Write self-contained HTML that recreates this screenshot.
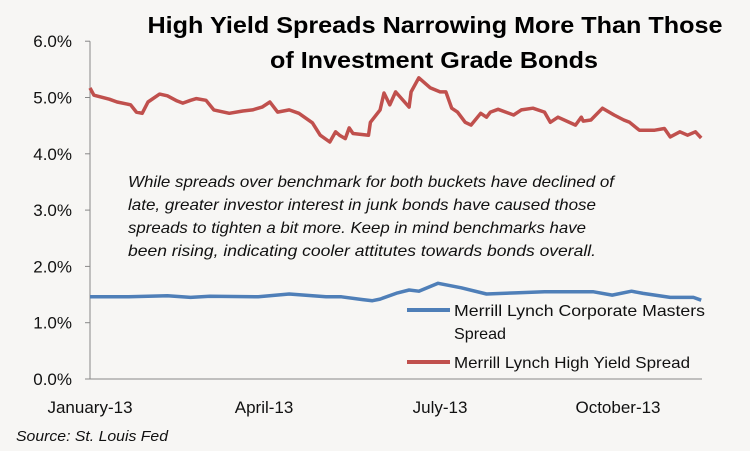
<!DOCTYPE html>
<html><head><meta charset="utf-8"><style>
html,body{margin:0;padding:0;background:#f7f6f4;}
svg{display:block;font-family:"Liberation Sans Narrow","Liberation Sans",sans-serif;}
</style></head><body>
<svg id="chart" width="750" height="451" viewBox="0 0 750 451">
<rect width="750" height="451" fill="#f7f6f4"/>
<g font-weight="bold" font-size="23" fill="#000">
<text x="435" y="33" text-anchor="middle" textLength="575" lengthAdjust="spacingAndGlyphs">High Yield Spreads Narrowing More Than Those</text>
<text x="434" y="68" text-anchor="middle" textLength="328" lengthAdjust="spacingAndGlyphs">of Investment Grade Bonds</text>
</g>
<g font-style="italic" font-size="16" fill="#111">
<text x="128" y="187" textLength="486" lengthAdjust="spacingAndGlyphs">While spreads over benchmark for both buckets have declined of</text>
<text x="128" y="210" textLength="468" lengthAdjust="spacingAndGlyphs">late, greater investor interest in junk bonds have caused those</text>
<text x="128" y="233" textLength="458" lengthAdjust="spacingAndGlyphs">spreads to tighten a bit more. Keep in mind benchmarks have</text>
<text x="128" y="256" textLength="468" lengthAdjust="spacingAndGlyphs">been rising, indicating cooler attitutes  towards bonds overall.</text>
</g>
<g id="axes"></g>
<g id="series"></g>
<g font-size="16" fill="#111">
<line x1="407" y1="310" x2="450" y2="310" stroke="#4f7fb8" stroke-width="4"/>
<text x="454" y="316" textLength="251" lengthAdjust="spacingAndGlyphs">Merrill Lynch Corporate Masters</text>
<text x="454" y="339" textLength="52" lengthAdjust="spacingAndGlyphs">Spread</text>
<line x1="407" y1="362" x2="450" y2="362" stroke="#c0504d" stroke-width="4"/>
<text x="454" y="368" textLength="236" lengthAdjust="spacingAndGlyphs">Merrill Lynch High Yield Spread</text>
</g>
<text x="16" y="441" font-size="15" font-style="italic" fill="#111" textLength="152" lengthAdjust="spacingAndGlyphs">Source: St. Louis Fed</text>
</svg>
<script>
const yTicks=[0,1,2,3,4,5,6];
const yTickLabels=["0.0%","1.0%","2.0%","3.0%","4.0%","5.0%","6.0%"];
const xTickDays=[0,90,181,273];
const xTickLabels=["January-13","April-13","July-13","October-13"];
const hyDays=[0,2,10,14,21,24,27,30,36,40,45,48,52,55,60,64,72,79,84,89,93,97,103,108,115,119,124,127,129,132,134,136,144,145,150,152,155,158,165,166,170,176,181,184,187,190,194,197,202,205,207,211,219,223,229,235,238,242,251,254,255,259,265,271,276,279,284,292,297,300,305,309,313,316];
const hyValues=[5.17,5.04,4.97,4.92,4.87,4.74,4.72,4.92,5.06,5.03,4.94,4.9,4.95,4.98,4.95,4.78,4.72,4.76,4.78,4.83,4.92,4.74,4.78,4.72,4.55,4.33,4.21,4.39,4.33,4.27,4.46,4.36,4.33,4.56,4.78,5.08,4.87,5.1,4.83,5.1,5.35,5.17,5.1,5.1,4.81,4.74,4.56,4.51,4.72,4.65,4.74,4.79,4.69,4.78,4.81,4.74,4.56,4.65,4.51,4.65,4.58,4.6,4.81,4.69,4.6,4.56,4.42,4.42,4.45,4.3,4.39,4.33,4.39,4.28];
const igDays=[0,20,40,52,62,87,103,122,130,141,146,150,159,165,170,180,192,205,220,235,245,253,260,270,280,286,300,312,316];
const igValues=[1.46,1.46,1.48,1.45,1.47,1.46,1.51,1.46,1.46,1.41,1.39,1.42,1.53,1.58,1.56,1.7,1.62,1.51,1.53,1.55,1.55,1.55,1.55,1.49,1.56,1.52,1.45,1.45,1.40];
const NS="http://www.w3.org/2000/svg";
const x0=90,xEnd=702,pxPerDay=(618-90)/273;
const yBase=379,pxPerPct=56.3;
function xs(d){return x0+d*pxPerDay;}
function ys(v){return yBase-v*pxPerPct;}
function mk(t,a,p){const e=document.createElementNS(NS,t);for(const k in a)e.setAttribute(k,a[k]);p.appendChild(e);return e;}
const ax=document.getElementById('axes');
const yl=mk('line',{x1:x0,y1:ys(6),x2:x0,y2:yBase,stroke:'#888','stroke-width':1},ax);


const xl=mk('line',{x1:x0,y1:yBase,x2:xEnd,y2:yBase,stroke:'#888','stroke-width':1},ax);


yTicks.forEach((v,i)=>{
 const tk=mk('line',{x1:x0-5,y1:ys(v),x2:x0,y2:ys(v),stroke:'#888'},ax);
 
 
 const t=mk('text',{x:x0-18,y:ys(v)+6,'text-anchor':'end','font-size':17,fill:'#111'},ax);
 t.textContent=yTickLabels[i];
 
 
});
xTickDays.forEach((d,i)=>{
 const t=mk('text',{x:xs(d),y:413,'text-anchor':'middle','font-size':17,fill:'#111'},ax);
 t.textContent=xTickLabels[i];
 
 
});
const sg=document.getElementById('series');
function line(days,vals,color,name){
 const d=days.map((dd,i)=>(i?'L':'M')+xs(dd).toFixed(1)+','+ys(vals[i]).toFixed(1)).join('');
 const p=mk('path',{d:d,fill:'none',stroke:color,'stroke-width':3.5,'stroke-linejoin':'round'},sg);
 
 
}
line(hyDays,hyValues,'#c0504d','high-yield-spread-line');
line(igDays,igValues,'#4f7fb8','corporate-masters-spread-line');
</script>
</body></html>
